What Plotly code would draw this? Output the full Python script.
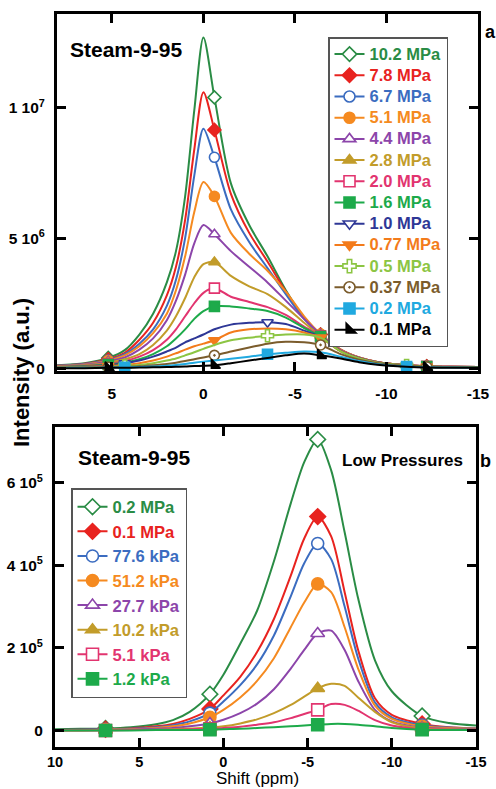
import plotly.graph_objects as go

# ---------------- Panel a (high pressures), intensity in units of 1e6 ----------------
shift_a = [8, 6.5, 5.2, 4.3, 3.5, 2.75, 2, 1.5, 1, 0.5, 0, -0.6, -1.5, -2.5, -3.5,
           -4.5, -5.5, -6.4, -7.5, -8.5, -9.5, -11.1, -12.2, -13.5, -15]
labels_a = ["10.2 MPa", "7.8 MPa", "6.7 MPa", "5.1 MPa", "4.4 MPa", "2.8 MPa", "2.0 MPa",
            "1.6 MPa", "1.0 MPa", "0.77 MPa", "0.5 MPa", "0.37 MPa", "0.2 MPa", "0.1 MPa"]
a_10_2 = [0.12, 0.2, 0.4, 0.7, 1.3, 2.1, 3.3, 4.5, 6.6, 9.9, 12.7, 10.4, 7.1, 5.5, 4.3,
          3.0, 1.95, 1.3, 0.72, 0.42, 0.25, 0.12, 0.08, 0.06, 0.05]
a_7_8 = [0.1, 0.18, 0.35, 0.6, 1.1, 1.75, 2.8, 3.9, 5.7, 8.4, 10.6, 9.15, 6.7, 5.2, 4.1,
         2.95, 1.95, 1.3, 0.72, 0.42, 0.25, 0.12, 0.08, 0.06, 0.05]
a_6_7 = [0.1, 0.17, 0.32, 0.55, 0.95, 1.5, 2.4, 3.4, 5.0, 7.4, 9.2, 8.1, 6.1, 4.85, 3.85,
         2.85, 1.9, 1.28, 0.7, 0.41, 0.24, 0.12, 0.08, 0.06, 0.05]
a_5_1 = [0.09, 0.15, 0.3, 0.5, 0.85, 1.35, 2.1, 3.0, 4.3, 6.0, 7.15, 6.6, 5.2, 4.4, 3.75,
         2.95, 2.0, 1.32, 0.72, 0.42, 0.25, 0.12, 0.08, 0.06, 0.05]
a_4_4 = [0.08, 0.14, 0.27, 0.42, 0.72, 1.15, 1.85, 2.6, 3.6, 4.8, 5.5, 5.15, 4.5, 3.9, 3.3,
         2.6, 1.9, 1.3, 0.7, 0.41, 0.24, 0.12, 0.08, 0.06, 0.05]
a_2_8 = [0.07, 0.12, 0.22, 0.35, 0.55, 0.9, 1.45, 2.0, 2.7, 3.5, 4.0, 4.08, 3.55, 3.15, 2.85,
         2.35, 1.75, 1.25, 0.68, 0.4, 0.24, 0.12, 0.08, 0.06, 0.05]
a_2_0 = [0.06, 0.1, 0.18, 0.28, 0.45, 0.7, 1.1, 1.5, 2.0, 2.5, 2.9, 3.08, 2.75, 2.55, 2.35,
         2.05, 1.6, 1.25, 0.68, 0.4, 0.24, 0.12, 0.08, 0.06, 0.05]
a_1_6 = [0.05, 0.09, 0.15, 0.22, 0.35, 0.55, 0.85, 1.15, 1.5, 1.9, 2.2, 2.38, 2.38, 2.3, 2.2,
         1.95, 1.55, 1.22, 0.66, 0.39, 0.23, 0.11, 0.07, 0.05, 0.04]
a_1_0 = [0.04, 0.07, 0.12, 0.2, 0.3, 0.45, 0.65, 0.8, 1.0, 1.15, 1.3, 1.5, 1.68, 1.75, 1.77,
         1.7, 1.45, 1.2, 0.66, 0.39, 0.23, 0.11, 0.07, 0.05, 0.04]
a_0_77 = [0.04, 0.06, 0.09, 0.13, 0.2, 0.3, 0.45, 0.58, 0.72, 0.85, 0.95, 1.08, 1.38, 1.5, 1.53,
          1.5, 1.38, 1.18, 0.65, 0.38, 0.22, 0.11, 0.07, 0.05, 0.04]
a_0_5 = [0.03, 0.04, 0.06, 0.09, 0.13, 0.2, 0.3, 0.38, 0.5, 0.62, 0.75, 0.9, 1.08, 1.18, 1.25,
         1.3, 1.3, 1.18, 0.65, 0.38, 0.22, 0.11, 0.07, 0.05, 0.04]
a_0_37 = [0.03, 0.04, 0.05, 0.06, 0.08, 0.12, 0.17, 0.22, 0.28, 0.35, 0.42, 0.5, 0.65, 0.8, 0.95,
          1.02, 1.0, 0.9, 0.55, 0.33, 0.2, 0.1, 0.06, 0.04, 0.03]
a_0_2 = [0.02, 0.02, 0.03, 0.04, 0.05, 0.07, 0.1, 0.13, 0.17, 0.22, 0.26, 0.3, 0.37, 0.45, 0.54,
         0.6, 0.65, 0.62, 0.45, 0.28, 0.16, 0.07, 0.04, 0.03, 0.02]
a_0_1 = [0.01, 0.01, 0.02, 0.02, 0.03, 0.04, 0.05, 0.06, 0.07, 0.09, 0.1, 0.12, 0.2, 0.3, 0.4,
         0.5, 0.57, 0.5, 0.38, 0.24, 0.14, 0.06, 0.03, 0.02, 0.02]
marker_idx_a_main = [2, 11, 17, 22]
marker_idx_a_alt = [3, 14, 21]
yticks_a = [0, 5e6, 1e7]
yticklabels_a = ["0", "5 10<sup>6</sup>", "1 10<sup>7</sup>"]
xticks = [10, 5, 0, -5, -10, -15]

# ---------------- Panel b (low pressures), intensity in units of 1e5 ----------------
shift_b = [10, 8.5, 7, 5.5, 4, 3, 2, 0.8, 0, -1, -2, -3, -4, -4.8, -5.6, -6.4, -7.2, -8,
           -9, -10, -11.8, -13.4, -15]
labels_b = ["0.2 MPa", "0.1 MPa", "77.6 kPa", "51.2 kPa", "27.7 kPa", "10.2 kPa", "5.1 kPa", "1.2 kPa"]
b_0_2 = [0.03, 0.04, 0.05, 0.08, 0.15, 0.25, 0.45, 0.88, 1.35, 2.1, 2.9, 4.1, 5.5, 6.5, 7.05,
         6.3, 4.8, 3.2, 1.7, 0.95, 0.35, 0.18, 0.12]
b_0_1 = [0.01, 0.02, 0.03, 0.05, 0.1, 0.16, 0.28, 0.52, 0.85, 1.3, 1.9, 2.7, 3.75, 4.65, 5.18,
         4.7, 3.35, 1.95, 0.78, 0.38, 0.16, 0.08, 0.05]
b_77_6 = [0.01, 0.02, 0.03, 0.04, 0.08, 0.13, 0.22, 0.42, 0.7, 1.1, 1.6, 2.3, 3.25, 4.05, 4.53,
          4.15, 3.0, 1.75, 0.68, 0.32, 0.13, 0.07, 0.05]
b_51_2 = [0.01, 0.01, 0.02, 0.03, 0.06, 0.1, 0.17, 0.32, 0.5, 0.8, 1.2, 1.75, 2.5, 3.1, 3.55,
          3.35, 2.5, 1.5, 0.6, 0.28, 0.1, 0.06, 0.04]
b_27_7 = [0.01, 0.01, 0.01, 0.02, 0.04, 0.06, 0.1, 0.17, 0.26, 0.42, 0.65, 1.0, 1.5, 1.95, 2.35,
          2.42, 1.95, 1.2, 0.5, 0.22, 0.07, 0.04, 0.03]
b_10_2 = [0.0, 0.0, 0.01, 0.01, 0.02, 0.03, 0.05, 0.07, 0.1, 0.17, 0.27, 0.42, 0.62, 0.82, 1.02,
          1.13, 1.08, 0.8, 0.45, 0.2, 0.05, 0.03, 0.02]
b_5_1 = [0.0, 0.0, 0.0, 0.01, 0.01, 0.02, 0.03, 0.04, 0.06, 0.09, 0.14, 0.2, 0.3, 0.4, 0.5,
         0.64, 0.62, 0.48, 0.25, 0.12, 0.03, 0.02, 0.01]
b_1_2 = [0.0, 0.0, 0.0, 0.0, 0.01, 0.01, 0.01, 0.02, 0.03, 0.04, 0.06, 0.08, 0.1, 0.12, 0.14,
         0.16, 0.16, 0.14, 0.1, 0.06, 0.02, 0.01, 0.01]
marker_idx_b = [2, 7, 14, 20]
yticks_b = [0, 2e5, 4e5, 6e5]
yticklabels_b = ["0", "2 10<sup>5</sup>", "4 10<sup>5</sup>", "6 10<sup>5</sup>"]

# ---------------- styles ----------------
GREEN = "#2a8c45"; RED = "#e8231f"; BLUE = "#3b6cc0"; ORANGE = "#f58a20"
PURPLE = "#8c45aa"; OLIVE = "#c29c2a"; PINK = "#e2346f"; LGREEN = "#1daa4a"
NAVY = "#2e3796"; ORANGE2 = "#f37b1b"; YGREEN = "#8cc543"; BROWN = "#7b5c2c"
CYAN = "#20a9e0"; BLACK = "#000000"

series_a = [a_10_2, a_7_8, a_6_7, a_5_1, a_4_4, a_2_8, a_2_0, a_1_6, a_1_0, a_0_77, a_0_5,
            a_0_37, a_0_2, a_0_1]
colors_a = [GREEN, RED, BLUE, ORANGE, PURPLE, OLIVE, PINK, LGREEN, NAVY, ORANGE2, YGREEN,
            BROWN, CYAN, BLACK]
symbols_a = ["diamond", "diamond", "circle", "circle", "triangle-up", "triangle-up", "square",
             "square", "triangle-down", "triangle-down", "cross", "circle-dot", "square",
             "triangle-sw"]
filled_a = [False, True, False, True, False, True, False, True, False, True, False, False,
            True, True]
midx_a = [marker_idx_a_main] * 8 + [marker_idx_a_alt, marker_idx_a_main, marker_idx_a_alt,
                                    marker_idx_a_main, marker_idx_a_alt, marker_idx_a_main]

series_b = [b_0_2, b_0_1, b_77_6, b_51_2, b_27_7, b_10_2, b_5_1, b_1_2]
colors_b = [GREEN, RED, BLUE, ORANGE, PURPLE, OLIVE, PINK, LGREEN]
symbols_b = ["diamond", "diamond", "circle", "circle", "triangle-up", "triangle-up", "square",
             "square"]
filled_b = [False, True, False, True, False, True, False, True]

fig = go.Figure()


def add_series(x, vals, scale, name, color, symbol, filled, midx, xa, ya, legend, msize,
               lsize, span_style):
    y = [v * scale for v in vals]
    fig.add_trace(go.Scatter(x=x, y=y, mode="lines", line=dict(color=color, width=2,
                             shape="spline", smoothing=0.8), xaxis=xa, yaxis=ya,
                             showlegend=False, hoverinfo="skip"))
    mk = dict(symbol=symbol, size=msize, color=color if filled else "white",
              line=dict(color=color, width=1.6))
    fig.add_trace(go.Scatter(x=[x[i] for i in midx], y=[y[i] for i in midx], mode="markers",
                             marker=mk, xaxis=xa, yaxis=ya, showlegend=False,
                             hoverinfo="skip"))
    lmk = dict(mk); lmk["size"] = lsize
    fig.add_trace(go.Scatter(x=[None], y=[None], mode="lines+markers",
                             name=f"<span style='{span_style}color:{color}'>{name}</span>",
                             line=dict(color=color, width=2), marker=lmk, xaxis=xa,
                             yaxis=ya, legend=legend))


for vals, name, c, s, f, m in zip(series_a, labels_a, colors_a, symbols_a, filled_a, midx_a):
    add_series(shift_a, vals, 1e6, name, c, s, f, m, "x", "y", "legend", 10, 11,
               "font-size:16.5px;")
for vals, name, c, s, f in zip(series_b, labels_b, colors_b, symbols_b, filled_b):
    add_series(shift_b, vals, 1e5, name, c, s, f, marker_idx_b, "x2", "y2", "legend2", 12, 12,
               "")

tickfont = dict(family="Liberation Sans", size=15.5, color="black", weight="bold")
axis_common = dict(showline=True, linewidth=3, linecolor="black", mirror="allticks",
                   ticks="inside", ticklen=9, tickwidth=3, tickcolor="black",
                   showgrid=False, zeroline=False, automargin=False)

fig.update_layout(
    width=496, height=789, margin=dict(l=0, r=0, t=0, b=0, autoexpand=False),
    paper_bgcolor="white", plot_bgcolor="white",
    xaxis=dict(domain=[57 / 496, 478 / 496], range=[8, -15], anchor="y",
               tickvals=xticks[1:], ticktext=[str(v) for v in xticks[1:]],
               ticklabelstandoff=6, tickfont=tickfont, **axis_common),
    yaxis=dict(domain=[1 - 371 / 789, 1 - 14 / 789], range=[-1e5, 1.36e7], anchor="x",
               tickvals=yticks_a, ticktext=yticklabels_a, ticklabelstandoff=6,
               tickfont=tickfont, **axis_common),
    xaxis2=dict(domain=[55 / 496, 476 / 496], range=[10, -15], anchor="y2",
                tickvals=xticks, ticktext=[str(v) for v in xticks], ticklabelstandoff=0,
                tickfont=dict(tickfont, size=14.5), **axis_common),
    yaxis2=dict(domain=[1 - 747 / 789, 1 - 427 / 789], range=[-4e4, 7.35e5], anchor="x2",
                tickvals=yticks_b, ticktext=yticklabels_b, ticklabelstandoff=6,
                tickfont=tickfont, **axis_common),
    legend=dict(x=328 / 496, y=1 - 37 / 789, xanchor="left", yanchor="top",
                bgcolor="white", bordercolor="#555555", borderwidth=1.5,
                font=dict(family="Liberation Sans", size=14, weight="bold"),
                tracegroupgap=0, itemclick=False),
    legend2=dict(x=71 / 496, y=1 - 488 / 789, xanchor="left", yanchor="top",
                 bgcolor="white", bordercolor="#555555", borderwidth=1.5,
                 font=dict(family="Liberation Sans", size=16.6, weight="bold"),
                 tracegroupgap=0, itemclick=False),
    showlegend=True,
)

ann_font = dict(family="Liberation Sans", color="black", weight="bold")
annotations = [
    dict(text="Steam-9-95", x=68 / 496, y=1 - 50 / 789, xanchor="left", yanchor="middle",
         font=dict(size=21, **ann_font)),
    dict(text="Steam-9-95", x=76 / 496, y=1 - 457 / 789, xanchor="left", yanchor="middle",
         font=dict(size=21, **ann_font)),
    dict(text="Low Pressures", x=340 / 496, y=1 - 461 / 789, xanchor="left", yanchor="middle",
         font=dict(size=17, **ann_font)),
    dict(text="a", x=490 / 496, y=1 - 32 / 789, xanchor="center", yanchor="middle",
         font=dict(size=18, **ann_font)),
    dict(text="b", x=485 / 496, y=1 - 461 / 789, xanchor="center", yanchor="middle",
         font=dict(size=18, **ann_font)),
    dict(text="Intensity (a.u.)", x=21 / 496, y=1 - 373 / 789, xanchor="center",
         yanchor="middle", textangle=-90, font=dict(size=22, **ann_font)),
    dict(text="Shift (ppm)", x=257 / 496, y=0, xanchor="center", yanchor="bottom",
         borderpad=0, font=dict(size=17, family="Liberation Sans", color="black")),
]
for a in annotations:
    a.update(xref="paper", yref="paper", showarrow=False)
fig.update_layout(annotations=annotations)

fig.write_html("out.html")
